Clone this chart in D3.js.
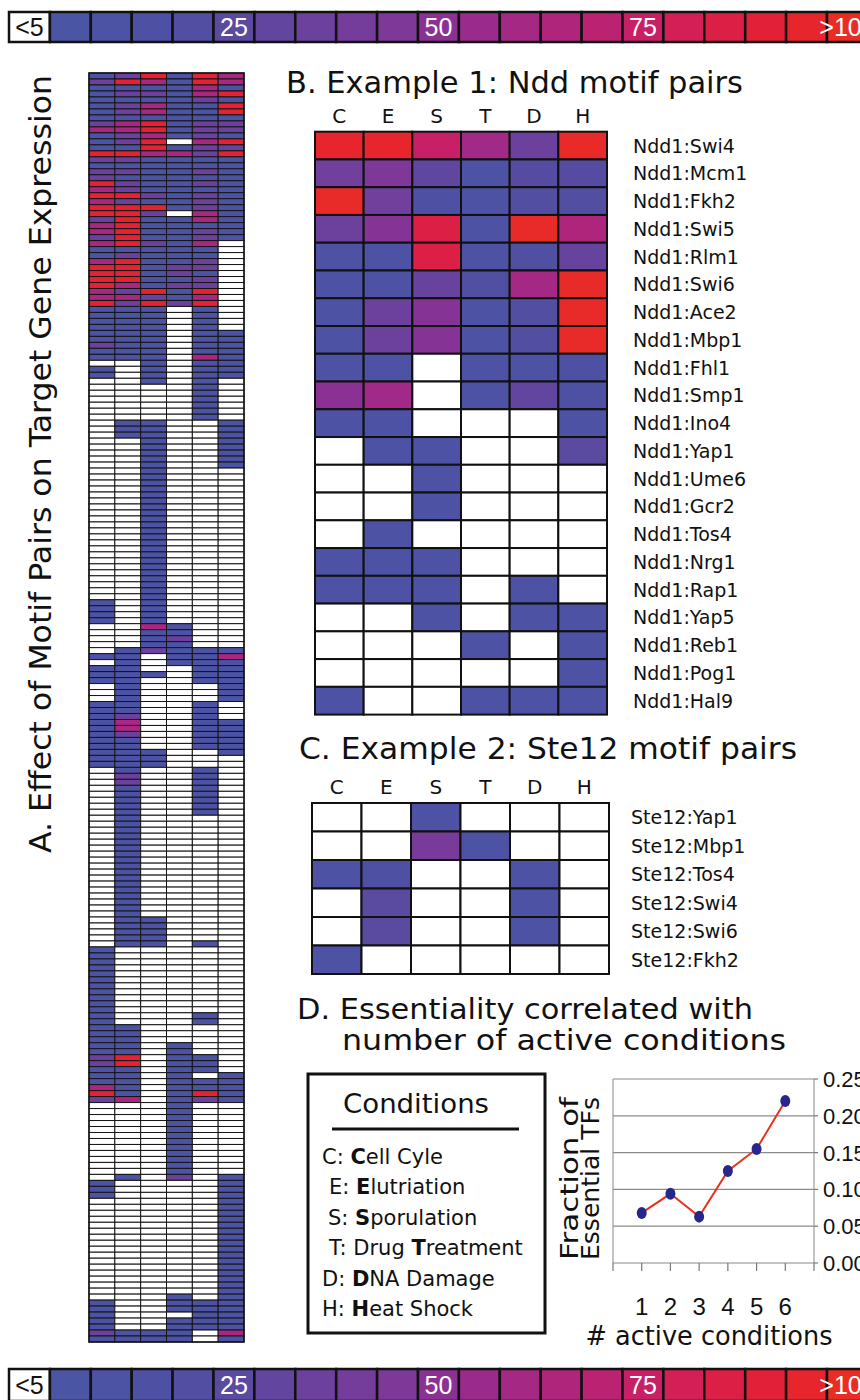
<!DOCTYPE html>
<html>
<head>
<meta charset="utf-8">
<script src="https://cdn.jsdelivr.net/npm/d3@7/dist/d3.min.js"></script>
<style>
  body { margin: 0; background: #fff; }
  text { font-family: "DejaVu Sans", sans-serif; fill: #111; }
  .narrow { font-family: "Liberation Sans Narrow", "Liberation Sans", sans-serif; }
</style>
</head>
<body>
<svg id="fig" width="860" height="1400"></svg>
<script>
// conditions (columns of every heatmap)
var conditions = ["C", "E", "S", "T", "D", "H"];

// colour legend: bins of 5, first one is "<5"
var legendBins = [0, 5, 10, 15, 20, 25, 30, 35, 40, 45, 50, 55, 60, 65, 70, 75, 80, 85, 90, 95, 100];
var legendLabels = { 0: "<5", 25: "25", 50: "50", 75: "75", 100: ">100" };
var colorStops = [5, 10, 15, 20, 25, 30, 35, 40, 45, 50, 55, 60, 65, 70, 75, 80, 85, 90, 95, 100];
var colorRange = ["#4a55a4", "#4c53a4", "#4e51a3", "#524ea2", "#5a4aa0", "#62459f", "#6c419d", "#753d9b",
  "#7d3898", "#8a3193", "#9a2b8c", "#a52884", "#b0257c", "#bb2372", "#c72066", "#d31f55", "#dc1f45",
  "#e22038", "#e6252c", "#e92d25"];

// panel A: codes per cell, run length encoded rows [repeat, C E S T D H]
var codeValue = { W: 0, B: 10, V: 35, M: 62, R: 92 };
var heatRuns = [
  [1, "BVRBRM"], [1, "VRMBRM"], [1, "BBBBMB"], [1, "BVVBMR"], [1, "BBBBVB"], [1, "BVMBBR"],
  [1, "BVMBBR"], [1, "BBBBBB"], [1, "VMRBVV"], [1, "MMRBVV"], [1, "BVMBVB"], [1, "BVRWMR"],
  [1, "BBRBVV"], [1, "RRMMVR"], [1, "VVBBBB"], [1, "BBBBBB"], [1, "VVBBVB"], [1, "VBBBBB"],
  [1, "RVBBVB"], [1, "MVBBBB"], [1, "RRVBVB"], [1, "MVBBVB"], [1, "RRRBVB"], [1, "RRVWMB"],
  [1, "VRBBMB"], [1, "MRBBBB"], [1, "MRBBVB"], [1, "VRBBVB"], [1, "MRVBMW"], [1, "BBBBBW"],
  [1, "BVBBBW"], [1, "MRBBVW"], [1, "RRBVVW"], [1, "RRBVBW"], [1, "RRBBVW"], [1, "RMBVVW"],
  [1, "MVRBRW"], [1, "MMVBMW"], [1, "RVRVRW"], [4, "BBBWBW"], [2, "BBBWBB"], [1, "VBBWBB"],
  [1, "BBBWBB"], [1, "BBBWMB"], [1, "WWBWBB"], [2, "BWBWBB"], [1, "WWBWBW"], [6, "WWWWBW"],
  [3, "WBBWWB"], [5, "WWBWWB"], [22, "WWBWWW"], [4, "BWBWWW"], [1, "WWMBWW"], [1, "WWBBWW"],
  [1, "WWBVWW"], [1, "WWBBWW"], [1, "WBVBBB"], [1, "BBWBBM"], [1, "WBWBBB"], [1, "BBWWBB"],
  [1, "BBBWBB"], [1, "BBWWBB"], [3, "WBWWWB"], [2, "BBWWBW"], [1, "BVWWBW"], [2, "BMWWBB"],
  [1, "BVWWBB"], [2, "BBWWBB"], [1, "BBBWWB"], [2, "BBBWWW"], [1, "WBWWBW"], [2, "WVWWBW"],
  [5, "WBWWBW"], [17, "WBWWWW"], [4, "WBBWWW"], [1, "WBBWBW"], [11, "BWWWWW"], [2, "BWWWBW"],
  [3, "BBWWWW"], [2, "BBWBWW"], [2, "VRWBBW"], [1, "BBWBBW"], [1, "BBWBWB"], [1, "BBWBBB"],
  [1, "MBWBBB"], [1, "RBWBRB"], [1, "VMWBVB"], [12, "WWWBWW"], [1, "WBWVWB"], [3, "BWWWWB"],
  [16, "WWWWWB"], [1, "WWWBWB"], [2, "BWWBBB"], [1, "BWWWBB"], [2, "BWWBBB"], [1, "VBBBWM"],
  [1, "BBBBWB"]
];

// panel B: Ndd1 motif pairs
var pairsB = ["Ndd1:Swi4", "Ndd1:Mcm1", "Ndd1:Fkh2", "Ndd1:Swi5", "Ndd1:Rlm1", "Ndd1:Swi6", "Ndd1:Ace2",
  "Ndd1:Mbp1", "Ndd1:Fhl1", "Ndd1:Smp1", "Ndd1:Ino4", "Ndd1:Yap1", "Ndd1:Ume6", "Ndd1:Gcr2", "Ndd1:Tos4",
  "Ndd1:Nrg1", "Ndd1:Rap1", "Ndd1:Yap5", "Ndd1:Reb1", "Ndd1:Pog1", "Ndd1:Hal9"];
var valuesB = [
  [95, 95, 75, 58, 35, 98], [38, 45, 28, 12, 22, 22], [98, 38, 15, 12, 20, 20], [35, 48, 85, 12, 98, 65],
  [12, 12, 85, 12, 18, 32], [12, 12, 33, 18, 60, 98], [12, 35, 48, 12, 20, 98], [12, 35, 48, 12, 20, 98],
  [12, 12, 0, 12, 12, 15], [50, 58, 0, 12, 30, 15], [12, 12, 0, 0, 0, 12], [0, 12, 12, 0, 0, 25],
  [0, 0, 12, 0, 0, 0], [0, 0, 12, 0, 0, 0], [0, 12, 0, 0, 0, 0], [12, 12, 12, 0, 0, 0],
  [12, 12, 12, 0, 12, 0], [0, 0, 12, 0, 12, 12], [0, 0, 0, 12, 0, 12], [0, 0, 0, 0, 0, 12],
  [12, 0, 0, 12, 12, 12]
];

// panel C: Ste12 motif pairs
var pairsC = ["Ste12:Yap1", "Ste12:Mbp1", "Ste12:Tos4", "Ste12:Swi4", "Ste12:Swi6", "Ste12:Fkh2"];
var valuesC = [
  [0, 0, 12, 0, 0, 0], [0, 0, 42, 12, 0, 0], [12, 15, 0, 0, 12, 0],
  [0, 25, 0, 0, 12, 0], [0, 25, 0, 0, 12, 0], [12, 0, 0, 0, 0, 0]
];

// panel D
var activeConditions = [1, 2, 3, 4, 5, 6];
var essentialFraction = [0.068, 0.094, 0.063, 0.125, 0.155, 0.220];
var fractionTicks = [0, 0.05, 0.10, 0.15, 0.20, 0.25];
var conditionNames = [
  ["C", "", "C", "ell Cyle"], ["E", "", "E", "lutriation"], ["S", "", "S", "porulation"],
  ["T", "Drug ", "T", "reatment"], ["D", "", "D", "NA Damage"], ["H", "", "H", "eat Shock"]
];

var svg = d3.select("#fig");
var heat = d3.scaleLinear().domain(colorStops).range(colorRange).clamp(true);
function fillFor(v) {
  return v < 5 ? "#fff" : heat(v);
}

// colour bars top and bottom
function drawLegendBar(y0, h) {
  var x = d3.scaleBand().domain(legendBins).range([9, 9 + 40.9 * legendBins.length]);
  var g = svg.append("g");
  g.selectAll("rect").data(legendBins).enter().append("rect")
    .attr("x", function(d) { return x(d); })
    .attr("y", y0)
    .attr("width", x.bandwidth())
    .attr("height", h)
    .attr("fill", function(d) { return fillFor(d); })
    .attr("stroke", "#111")
    .attr("stroke-width", 2.5);
  g.selectAll("text").data(legendBins.filter(function(d) { return legendLabels[d]; })).enter().append("text")
    .attr("class", "narrow")
    .attr("x", function(d) { return x(d) + x.bandwidth() / 2; })
    .attr("y", y0 + h / 2 + 9)
    .attr("text-anchor", "middle")
    .style("font-size", "25px")
    .style("fill", function(d) { return d === 0 ? "#111" : "#fff"; })
    .text(function(d) { return legendLabels[d]; });
}
drawLegendBar(12, 30);
drawLegendBar(1369, 32);

// panel A
var heatRows = [];
heatRuns.forEach(function(r) {
  for (var i = 0; i < r[0]; i++) heatRows.push(r[1]);
});
var xA = d3.scaleBand().domain(conditions).range([89, 244]);
var yA = d3.scaleBand().domain(d3.range(heatRows.length)).range([73, 1342]);
var cellsA = [];
heatRows.forEach(function(row, i) {
  conditions.forEach(function(c, j) {
    cellsA.push({ row: i, cond: c, value: codeValue[row[j]] });
  });
});
svg.append("g").selectAll("rect").data(cellsA).enter().append("rect")
  .attr("x", function(d) { return xA(d.cond); })
  .attr("y", function(d) { return yA(d.row); })
  .attr("width", xA.bandwidth())
  .attr("height", yA.bandwidth())
  .attr("fill", function(d) { return fillFor(d.value); })
  .attr("stroke", "#151515")
  .attr("stroke-width", 1);
svg.append("rect").attr("x", 89).attr("y", 73).attr("width", 155).attr("height", 1269)
  .attr("fill", "none").attr("stroke", "#151515").attr("stroke-width", 1.5);
svg.append("text")
  .attr("transform", "translate(51,853) rotate(-90)")
  .attr("textLength", 778)
  .attr("lengthAdjust", "spacingAndGlyphs")
  .style("font-size", "30px")
  .text("A. Effect of Motif Pairs on Target Gene Expression");

// panels B and C share the same drawing
function drawPairs(title, tx, ty, tlen, pairs, values, x0, x1, y0, y1, labelX) {
  svg.append("text").attr("x", tx).attr("y", ty)
    .attr("textLength", tlen).attr("lengthAdjust", "spacingAndGlyphs")
    .style("font-size", "30px").text(title);
  var x = d3.scaleBand().domain(conditions).range([x0, x1]);
  var y = d3.scaleBand().domain(pairs).range([y0, y1]);
  var g = svg.append("g");
  g.selectAll(".hdr").data(conditions).enter().append("text")
    .attr("x", function(d) { return x(d) + x.bandwidth() / 2; })
    .attr("y", y0 - 9)
    .attr("text-anchor", "middle")
    .style("font-size", "20px")
    .text(function(d) { return d; });
  var cells = [];
  pairs.forEach(function(p, i) {
    conditions.forEach(function(c, j) { cells.push({ pair: p, cond: c, value: values[i][j] }); });
  });
  g.selectAll("rect").data(cells).enter().append("rect")
    .attr("x", function(d) { return x(d.cond); })
    .attr("y", function(d) { return y(d.pair); })
    .attr("width", x.bandwidth())
    .attr("height", y.bandwidth())
    .attr("fill", function(d) { return fillFor(d.value); })
    .attr("stroke", "#111")
    .attr("stroke-width", 2);
  g.selectAll(".lbl").data(pairs).enter().append("text")
    .attr("x", labelX)
    .attr("y", function(d) { return y(d) + y.bandwidth() / 2 + 7; })
    .style("font-size", "19px")
    .text(function(d) { return d; });
}
drawPairs("B. Example 1: Ndd motif pairs", 286, 93, 457, pairsB, valuesB, 315, 607, 131.7, 714.6, 633);
drawPairs("C. Example 2: Ste12 motif pairs", 299, 759, 498, pairsC, valuesC, 312, 609, 803, 974, 631);

// panel D titles
svg.append("text").attr("x", 297).attr("y", 1019).attr("textLength", 456)
  .attr("lengthAdjust", "spacingAndGlyphs").style("font-size", "29px")
  .text("D. Essentiality correlated with");
svg.append("text").attr("x", 342).attr("y", 1050).attr("textLength", 444)
  .attr("lengthAdjust", "spacingAndGlyphs").style("font-size", "29px")
  .text("number of active conditions");

// conditions box
svg.append("rect").attr("x", 308).attr("y", 1074).attr("width", 237).attr("height", 259)
  .attr("fill", "none").attr("stroke", "#111").attr("stroke-width", 3);
svg.append("text").attr("x", 343).attr("y", 1113).attr("textLength", 146)
  .attr("lengthAdjust", "spacingAndGlyphs").style("font-size", "26px").text("Conditions");
svg.append("line").attr("x1", 332).attr("x2", 519).attr("y1", 1129).attr("y2", 1129)
  .attr("stroke", "#111").attr("stroke-width", 3);
var condX = { C: 322, E: 329, S: 328, T: 329, D: 322, H: 322 };
var yCond = d3.scalePoint().domain(conditions).range([1164, 1316]);
var condText = svg.append("g").selectAll("text").data(conditionNames).enter().append("text")
  .attr("x", function(d) { return condX[d[0]]; })
  .attr("y", function(d) { return yCond(d[0]); })
  .style("font-size", "21px");
condText.append("tspan").text(function(d) { return d[0] + ": " + d[1]; });
condText.append("tspan").style("font-weight", "bold").text(function(d) { return d[2]; });
condText.append("tspan").text(function(d) { return d[3]; });

// line chart
var xD = d3.scaleLinear().domain([0, 7]).range([613, 814]);
var yD = d3.scaleLinear().domain([0, 0.25]).range([1263, 1079]);
var gD = svg.append("g");
gD.selectAll(".grid").data(fractionTicks).enter().append("line")
  .attr("x1", xD(0)).attr("x2", xD(7))
  .attr("y1", function(d) { return yD(d); }).attr("y2", function(d) { return yD(d); })
  .attr("stroke", "#8a8a8a").attr("stroke-width", 1.2);
gD.append("line").attr("x1", xD(0)).attr("x2", xD(0)).attr("y1", yD(0)).attr("y2", yD(0.25))
  .attr("stroke", "#9a9a9a").attr("stroke-width", 1.2);
gD.append("line").attr("x1", xD(7)).attr("x2", xD(7)).attr("y1", yD(0)).attr("y2", yD(0.25))
  .attr("stroke", "#9a9a9a").attr("stroke-width", 1.2);
gD.selectAll(".xt").data(d3.range(0, 8)).enter().append("line")
  .attr("x1", function(d) { return xD(d); }).attr("x2", function(d) { return xD(d); })
  .attr("y1", yD(0)).attr("y2", yD(0) + 8)
  .attr("stroke", "#777").attr("stroke-width", 1.2);
gD.selectAll(".yt").data(fractionTicks).enter().append("line")
  .attr("x1", xD(7)).attr("x2", xD(7) + 4)
  .attr("y1", function(d) { return yD(d); }).attr("y2", function(d) { return yD(d); })
  .attr("stroke", "#777").attr("stroke-width", 1.2);
gD.selectAll(".yl").data(fractionTicks).enter().append("text")
  .attr("class", "narrow")
  .attr("x", xD(7) + 9)
  .attr("y", function(d) { return yD(d) + 8; })
  .style("font-size", "22px")
  .text(function(d) { return d3.format(".2f")(d); });
gD.selectAll(".xl").data(activeConditions).enter().append("text")
  .attr("class", "narrow")
  .attr("x", function(d) { return xD(d); })
  .attr("y", 1315)
  .attr("text-anchor", "middle")
  .style("font-size", "24px")
  .text(function(d) { return d; });
gD.append("text").attr("x", 709).attr("y", 1345).attr("text-anchor", "middle")
  .attr("textLength", 247).attr("lengthAdjust", "spacingAndGlyphs")
  .style("font-size", "26px").text("# active conditions");
gD.append("text").attr("transform", "translate(578,1260) rotate(-90)")
  .attr("textLength", 163).attr("lengthAdjust", "spacingAndGlyphs")
  .style("font-size", "25px").text("Fraction of");
gD.append("text").attr("transform", "translate(599,1260) rotate(-90)")
  .attr("textLength", 163).attr("lengthAdjust", "spacingAndGlyphs")
  .style("font-size", "25px").text("Essential TFs");
var line = d3.line()
  .x(function(d, i) { return xD(activeConditions[i]); })
  .y(function(d) { return yD(d); });
gD.append("path").datum(essentialFraction).attr("d", line)
  .attr("fill", "none").attr("stroke", "#e8321e").attr("stroke-width", 2);
gD.selectAll(".pt").data(essentialFraction).enter().append("ellipse")
  .attr("cx", function(d, i) { return xD(activeConditions[i]); })
  .attr("cy", function(d) { return yD(d); })
  .attr("rx", 5).attr("ry", 6)
  .attr("fill", "#26268c");
</script>
</body>
</html>
